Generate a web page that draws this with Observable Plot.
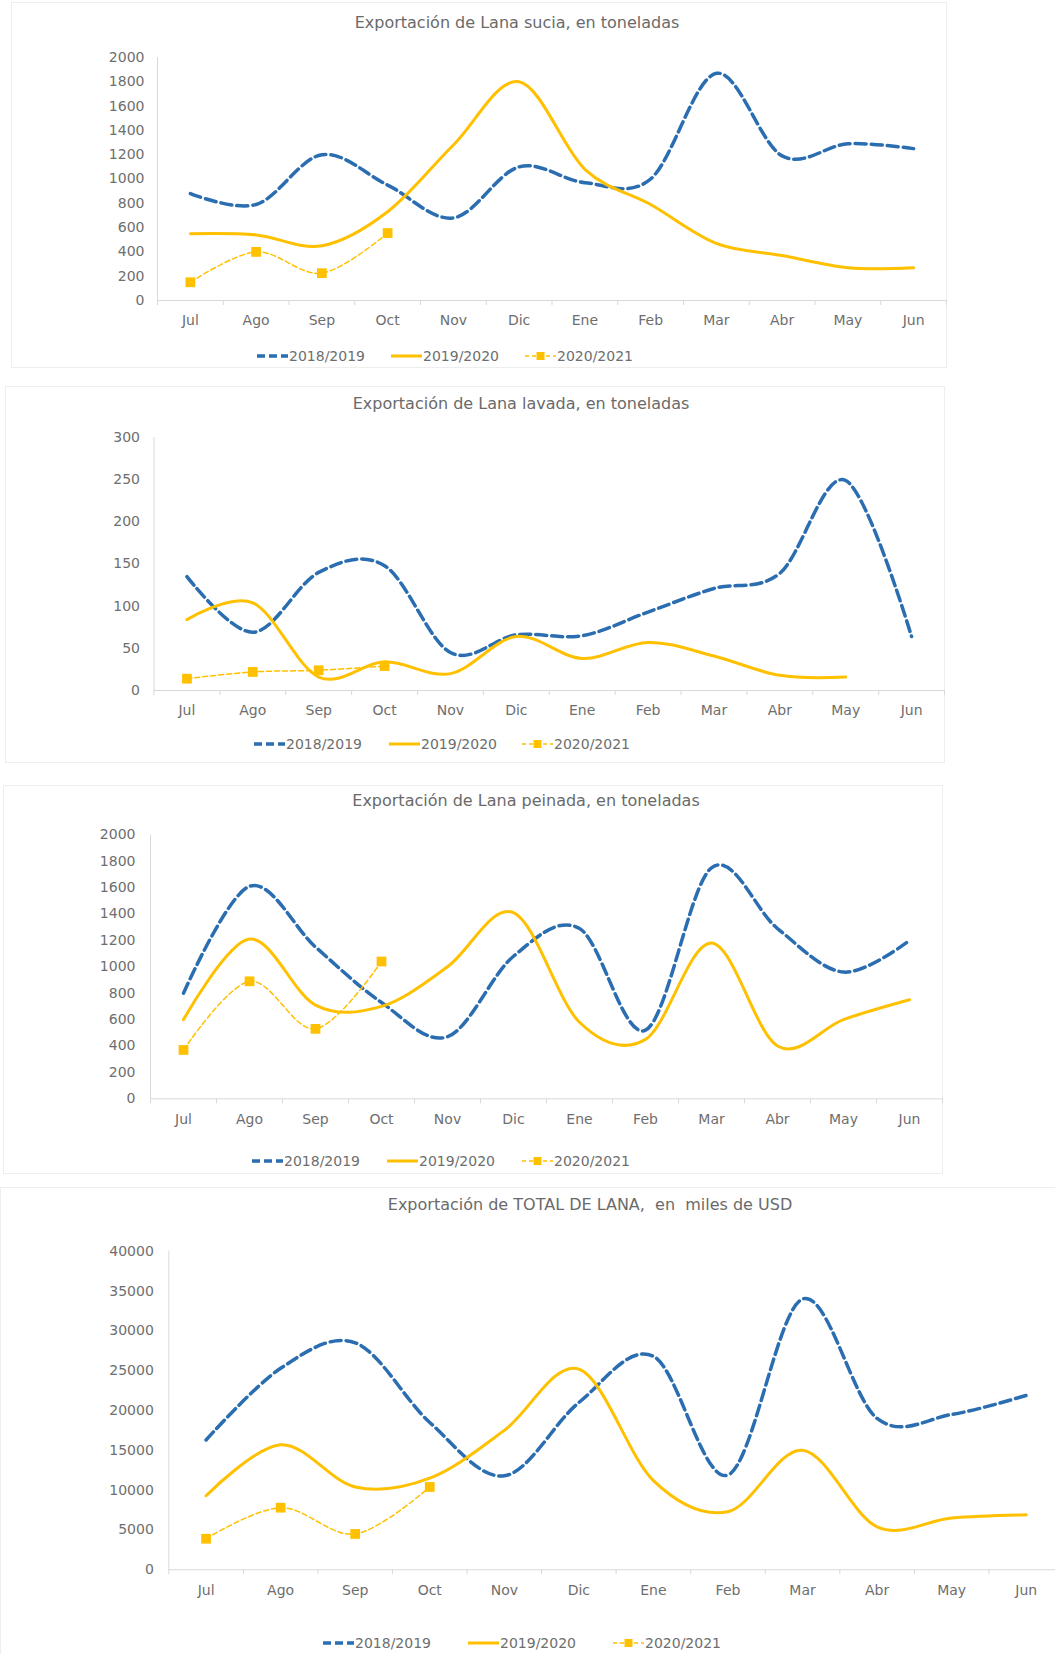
<!DOCTYPE html>
<html><head><meta charset="utf-8">
<script src="https://cdn.jsdelivr.net/npm/d3@7"></script>
<script src="https://cdn.jsdelivr.net/npm/@observablehq/plot@0.6"></script>
<style>
body{margin:0;background:#fff;}
#root{position:relative;width:1055px;height:1654px;overflow:hidden;font-family:"DejaVu Sans",sans-serif;color:#6e6e6e;background:#fff;}
.panel{position:absolute;border:1px solid #eeeeee;box-sizing:border-box;}
.title{position:absolute;transform:translate(-50%,-50%);white-space:pre;font-size:16px;color:#6a6a6a;}
.leg{position:absolute;display:flex;align-items:center;font-size:14px;transform:translateY(-50%);white-space:nowrap;}
.leg svg{display:block;}
.chart{position:absolute;left:0;max-width:none !important;}
</style></head><body><div id="root"></div>
<script>
// ---------- data ----------
const months = ["Jul","Ago","Sep","Oct","Nov","Dic","Ene","Feb","Mar","Abr","May","Jun"];
const seriesNames = ["2018/2019","2019/2020","2020/2021"];

const titleSucia = "Exportación de Lana sucia, en toneladas";
const sucia2018 = [880,790,1200,950,680,1100,970,1000,1870,1190,1290,1250];
const sucia2019 = [550,540,450,730,1280,1800,1080,790,470,370,270,270];
const sucia2020 = [150,400,225,555];
const suciaTicks = [0,200,400,600,800,1000,1200,1400,1600,1800,2000];

const titleLavada = "Exportación de Lana lavada, en toneladas";
const lavada2018 = [135,69,140,148,45,66,65,93,121,139,249,64];
const lavada2019 = [84,104,16,34,20,64,38,57,41,18,16];
const lavada2020 = [14,22,24,29];
const lavadaTicks = [0,50,100,150,200,250,300];

const titlePeinada = "Exportación de Lana peinada, en toneladas";
const peinada2018 = [800,1610,1150,730,470,1080,1290,520,1750,1290,960,1200];
const peinada2019 = [600,1210,710,700,1000,1410,580,450,1180,400,600,750];
const peinada2020 = [370,890,530,1040];
const peinadaTicks = [0,200,400,600,800,1000,1200,1400,1600,1800,2000];

const titleTotal = "Exportación de TOTAL DE LANA,  en  miles de USD";
const total2018 = [16300,25300,28500,18500,11800,21000,26800,11900,34000,19000,19500,21900];
const total2019 = [9300,15700,10400,11500,17500,25200,11200,7300,15000,5400,6500,6900];
const total2020 = [3900,7800,4500,10400];
const totalTicks = [0,5000,10000,15000,20000,25000,30000,35000,40000];

// ---------- styling ----------
const BLUE = "#2a6db0";
const GOLD = "#ffc000";
const AXIS = "#d9d9d9";

const layouts = [
  {title: titleSucia, s: [sucia2018, sucia2019, sucia2020], ticks: suciaTicks, ymax: 2000,
   panel: [11, 2, 936, 366], top: 0, width: 1055, height: 340, mL: 157, mR: 109, mT: 57, mB: 40, pad: 13,
   tx: 517, ty: 22, legX: [256, 390, 524], legY: 356},
  {title: titleLavada, s: [lavada2018, lavada2019, lavada2020], ticks: lavadaTicks, ymax: 300,
   panel: [5, 386, 940, 377], top: 380, width: 1055, height: 350, mL: 153.5, mR: 111, mT: 57, mB: 40, pad: 14,
   tx: 521, ty: 403, legX: [253, 388, 521], legY: 744},
  {title: titlePeinada, s: [peinada2018, peinada2019, peinada2020], ticks: peinadaTicks, ymax: 2000,
   panel: [3, 785, 940, 389], top: 770, width: 1055, height: 370, mL: 150, mR: 113, mT: 64.3, mB: 41.7, pad: 15,
   tx: 526, ty: 800, legX: [251, 386, 521], legY: 1161},
  {title: titleTotal, s: [total2018, total2019, total2020], ticks: totalTicks, ymax: 40000,
   panel: [0, 1187, 1080, 480], top: 1180, width: 1075, height: 430, mL: 168.3, mR: 12, mT: 70.7, mB: 40.7, pad: 15,
   tx: 590, ty: 1204, legX: [322, 467, 612], legY: 1643}
];

const root = document.getElementById("root");

function swatch(k) {
  const ns = "http://www.w3.org/2000/svg";
  const svg = document.createElementNS(ns, "svg");
  svg.setAttribute("width", 33); svg.setAttribute("height", 14);
  const line = document.createElementNS(ns, "line");
  line.setAttribute("x1", 1); line.setAttribute("x2", 32);
  line.setAttribute("y1", 7); line.setAttribute("y2", 7);
  if (k === 0) {
    line.setAttribute("stroke", BLUE); line.setAttribute("stroke-width", 3.5);
    line.setAttribute("stroke-dasharray", "8,4");
  } else if (k === 1) {
    line.setAttribute("stroke", GOLD); line.setAttribute("stroke-width", 3);
  } else {
    line.setAttribute("stroke", GOLD); line.setAttribute("stroke-width", 1.5);
    line.setAttribute("stroke-dasharray", "4,3");
  }
  svg.appendChild(line);
  if (k === 2) {
    const r = document.createElementNS(ns, "rect");
    r.setAttribute("x", 12.5); r.setAttribute("y", 3); r.setAttribute("width", 8); r.setAttribute("height", 8);
    r.setAttribute("fill", GOLD);
    svg.appendChild(r);
  }
  return svg;
}

layouts.forEach(L => {
  const p = document.createElement("div");
  p.className = "panel";
  p.style.left = L.panel[0] + "px"; p.style.top = L.panel[1] + "px";
  p.style.width = L.panel[2] + "px"; p.style.height = L.panel[3] + "px";
  root.appendChild(p);

  const d = L.s.map(arr => arr.map((v, i) => ({i, v})));
  const boundaries = months.map((m, i) => i - 0.5).concat([months.length - 0.5]);
  const centers = months.map((m, i) => i);

  const chart = Plot.plot({
    width: L.width, height: L.height,
    marginLeft: L.mL, marginRight: L.mR, marginTop: L.mT, marginBottom: L.mB,
    x: {type: "linear", domain: [-0.5, months.length - 0.5], label: null},
    y: {domain: [0, L.ymax], label: null},
    style: {fontFamily: "DejaVu Sans, sans-serif", fontSize: "14px", color: "#6e6e6e", background: "transparent", overflow: "visible", maxWidth: "none"},
    marks: [
      Plot.ruleY([0], {stroke: AXIS, strokeWidth: 1}),
      Plot.ruleX([-0.5], {stroke: AXIS, strokeWidth: 1}),
      Plot.axisX(boundaries, {tickSize: 5, tickFormat: () => "", stroke: AXIS, strokeOpacity: 1}),
      Plot.axisX(centers, {tickSize: 0, tickPadding: 15, tickFormat: i => months[i]}),
      Plot.axisY(L.ticks, {tickSize: 0, tickPadding: L.pad, tickFormat: v => String(v)}),
      Plot.line(d[0], {x: "i", y: "v", stroke: BLUE, strokeWidth: 3.5, strokeDasharray: "11,5", curve: "cardinal"}),
      Plot.line(d[1], {x: "i", y: "v", stroke: GOLD, strokeWidth: 3, curve: "cardinal"}),
      Plot.line(d[2], {x: "i", y: "v", stroke: GOLD, strokeWidth: 1.5, strokeDasharray: "5,3", curve: "cardinal"}),
      Plot.dot(d[2], {x: "i", y: "v", symbol: "square", r: 5.5, fill: GOLD, stroke: "none"})
    ]
  });
  chart.classList.add("chart");
  chart.style.top = L.top + "px";
  chart.style.maxWidth = "none";
  chart.style.width = L.width + "px";
  chart.style.height = L.height + "px";
  root.appendChild(chart);

  const t = document.createElement("div");
  t.className = "title";
  t.textContent = L.title;
  t.style.left = L.tx + "px"; t.style.top = L.ty + "px";
  root.appendChild(t);

  seriesNames.forEach((name, k) => {
    const item = document.createElement("div");
    item.className = "leg";
    item.style.left = L.legX[k] + "px"; item.style.top = L.legY + "px";
    item.appendChild(swatch(k));
    const s = document.createElement("span");
    s.textContent = name;
    item.appendChild(s);
    root.appendChild(item);
  });
});
</script>
</body></html>
